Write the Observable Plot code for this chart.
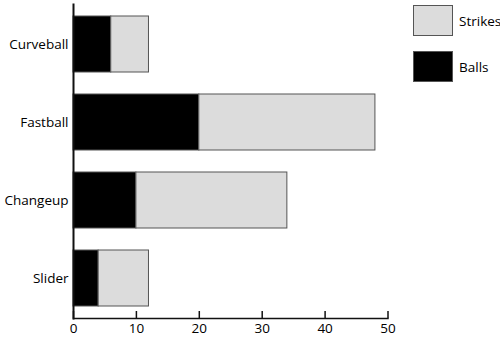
<!DOCTYPE html>
<html>
<head>
<meta charset="utf-8">
<script src="https://cdn.jsdelivr.net/npm/d3@7"></script>
<script src="https://cdn.jsdelivr.net/npm/@observablehq/plot@0.6"></script>
<style>
  html, body { margin: 0; padding: 0; background: #fff; }
  #wrap { position: relative; width: 500px; height: 338px; font-family: "Open Sans", sans-serif; }
  .leg { position: absolute; left: 413px; display: flex; align-items: center; font-size: 13.5px; color: #000; }
  .sw { width: 40px; height: 31px; border: 1px solid #555; box-sizing: border-box; margin-right: 6px; }
</style>
</head>
<body>
<div id="wrap"></div>
<script>
const pitches = ["Curveball", "Fastball", "Changeup", "Slider"];
const balls = [6, 20, 10, 4];
const strikes = [6, 28, 24, 8];
const seriesNames = ["Balls", "Strikes"];
const seriesColors = ["#000000", "#dcdcdc"];
const xTicks = [0, 10, 20, 30, 40, 50];

const data = [];
pitches.forEach((p, i) => {
  data.push({pitch: p, type: "Balls", value: balls[i]});
  data.push({pitch: p, type: "Strikes", value: strikes[i]});
});

const chart = Plot.plot({
  width: 500,
  height: 338,
  marginLeft: 73,
  marginRight: 112.5,
  marginTop: 4,
  marginBottom: 20,
  style: {fontFamily: "'Open Sans', sans-serif", fontSize: "13.5px", color: "#000", background: "#fff"},
  x: {domain: [0, 50], ticks: xTicks},
  y: {domain: pitches, paddingInner: 0.28, paddingOuter: 0.14},
  color: {domain: seriesNames, range: seriesColors},
  marks: [
    Plot.barX(data, Plot.stackX({y: "pitch", x: "value", fill: "type", order: seriesNames, stroke: "#555", strokeWidth: 1})),
    Plot.axisY({tickSize: 0, tickPadding: 5, label: null, fontSize: 13.5}),
    Plot.axisX({tickSize: 0, tickPadding: 5, label: null, fontSize: 13.5}),
    Plot.ruleX(xTicks, {x: d => d, insetTop: 307, stroke: "#111", strokeWidth: 1.5}),
    Plot.frame({anchor: "left", stroke: "#111", strokeWidth: 2}),
    Plot.frame({anchor: "bottom", stroke: "#111", strokeWidth: 1.5})
  ]
});

const wrap = document.getElementById("wrap");
wrap.appendChild(chart);

const legendItems = [
  {name: "Strikes", color: seriesColors[1], top: 5},
  {name: "Balls", color: seriesColors[0], top: 51}
];
legendItems.forEach(it => {
  const d = document.createElement("div");
  d.className = "leg";
  d.style.top = it.top + "px";
  const sw = document.createElement("div");
  sw.className = "sw";
  sw.style.background = it.color;
  const t = document.createElement("span");
  t.textContent = it.name;
  d.appendChild(sw);
  d.appendChild(t);
  wrap.appendChild(d);
});
chart.style.position = "absolute";
chart.style.left = "0";
chart.style.top = "0";
</script>
</body>
</html>
